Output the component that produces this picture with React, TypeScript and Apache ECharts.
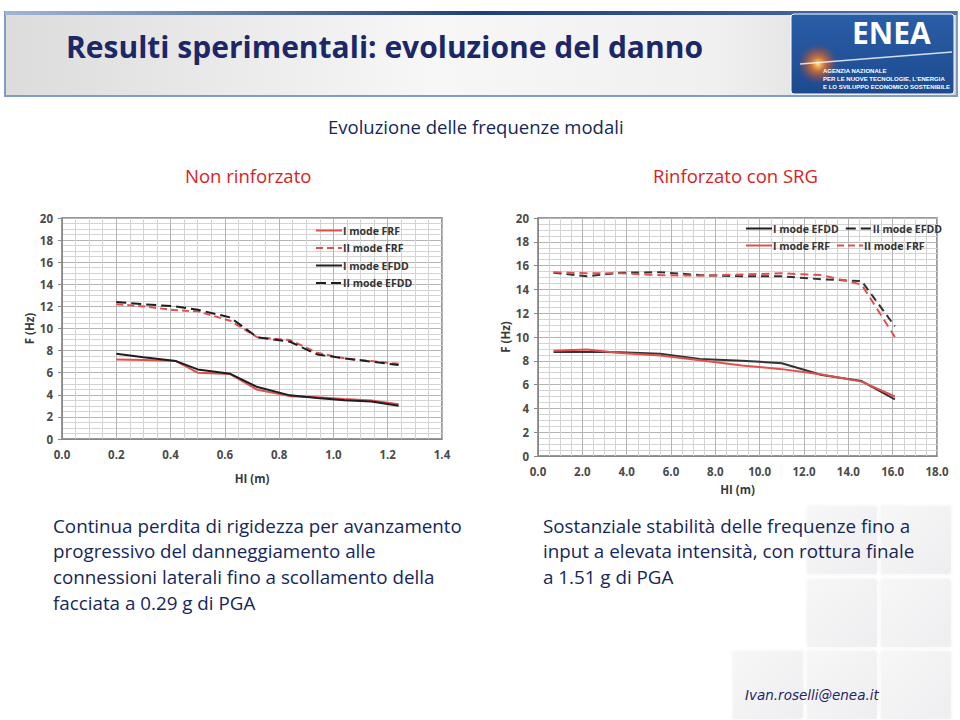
import React, { useEffect, useRef } from "react";
import * as echarts from "echarts";

// ---------- data ----------
const leftX = [0.2, 0.3, 0.42, 0.5, 0.62, 0.72, 0.84, 0.94, 1.04, 1.14, 1.24];
const leftIFRF = [7.2, 7.15, 7.05, 6.0, 5.88, 4.45, 3.88, 3.78, 3.62, 3.48, 3.15];
const leftIIFRF = [12.2, 12.0, 11.65, 11.55, 10.7, 9.2, 8.95, 7.8, 7.3, 7.05, 6.8];
const leftIEFDD = [7.72, 7.4, 7.05, 6.3, 5.9, 4.7, 3.95, 3.7, 3.5, 3.4, 3.0];
const leftIIEFDD = [12.4, 12.2, 12.0, 11.7, 11.0, 9.2, 8.8, 7.65, 7.3, 7.0, 6.7];

const rightX = [0.7, 2.2, 3.7, 5.5, 7.3, 9.2, 11.0, 12.8, 14.6, 16.1];
const rightIEFDD = [8.75, 8.75, 8.72, 8.6, 8.15, 8.0, 7.8, 6.8, 6.3, 4.75];
const rightIIEFDD = [15.4, 15.1, 15.4, 15.45, 15.2, 15.1, 15.1, 14.85, 14.7, 10.9];
const rightIFRF = [8.85, 8.95, 8.65, 8.45, 8.05, 7.6, 7.3, 6.85, 6.25, 5.0];
const rightIIFRF = [15.45, 15.35, 15.35, 15.2, 15.15, 15.25, 15.35, 15.2, 14.4, 10.0];

const leftLegend = ["I mode FRF", "II mode FRF", "I mode EFDD", "II mode EFDD"];
const rightLegend = ["I mode EFDD", "II mode EFDD", "I mode FRF", "II mode FRF"];

const pageTitle = "Resulti sperimentali: evoluzione del danno";
const chartSuper = "Evoluzione delle frequenze modali";
const leftTitle = "Non rinforzato";
const rightTitle = "Rinforzato con SRG";
const leftText = [
  "Continua perdita di rigidezza per avanzamento",
  "progressivo del danneggiamento alle",
  "connessioni laterali fino a scollamento della",
  "facciata a 0.29 g di PGA",
];
const rightText = [
  "Sostanziale stabilità delle frequenze fino a",
  "input a elevata intensità, con rottura finale",
  "a 1.51 g di PGA",
];
const email = "Ivan.roselli@enea.it";

const RED = "#e0504f";
const BLACK = "#1e1e1e";
const NAVY = "#15265a";

const zip = (xs: number[], ys: number[]) => xs.map((x, i) => [x, ys[i]]);

function mkSeries(name: string, xs: number[], ys: number[], idx: number, color: string, dashed: boolean, dash: number[]) {
  return {
    type: "line",
    name,
    xAxisIndex: idx,
    yAxisIndex: idx,
    data: zip(xs, ys),
    symbol: "none",
    smooth: false,
    lineStyle: { color, width: 2, type: dashed ? dash : "solid" },
    itemStyle: { color },
  };
}

const axisLabelStyle = {
  color: "#4a4a4a",
  fontSize: 11.5,
  fontWeight: "bold" as const,
  fontFamily: "Open Sans",
};

function xAxisCfg(idx: number, max: number, interval: number) {
  return {
    type: "value",
    gridIndex: idx,
    min: 0,
    max,
    interval,
    name: "HI (m)",
    nameLocation: "middle",
    nameGap: idx === 0 ? 33 : 27,
    nameTextStyle: { color: "#3a3a3a", fontSize: 11.5, fontWeight: "bold", fontFamily: "Open Sans" },
    axisLine: { show: true, lineStyle: { color: "#888", width: 1 } },
    axisTick: { show: false },
    axisLabel: { ...axisLabelStyle, margin: 9, formatter: (v: number) => v.toFixed(1) },
    splitLine: { show: true, lineStyle: { color: "#b4b4b4", width: 1 } },
    minorTick: { show: false, splitNumber: 4 },
    minorSplitLine: { show: true, lineStyle: { color: "#d4d4d4", width: 1 } },
  };
}

function yAxisCfg(idx: number) {
  return {
    type: "value",
    gridIndex: idx,
    min: 0,
    max: 20,
    interval: 2,
    name: "F (Hz)",
    nameLocation: "middle",
    nameRotate: 90,
    nameGap: 25,
    nameTextStyle: { color: "#3a3a3a", fontSize: 11.5, fontWeight: "bold", fontFamily: "Open Sans" },
    axisLine: { show: true, lineStyle: { color: "#888", width: 1 } },
    axisTick: { show: true, length: 4, inside: false, lineStyle: { color: "#888" } },
    axisLabel: { ...axisLabelStyle, margin: 9 },
    splitLine: { show: true, lineStyle: { color: "#b4b4b4", width: 1 } },
    minorTick: { show: false, splitNumber: 4 },
    minorSplitLine: { show: true, lineStyle: { color: "#d4d4d4", width: 1 } },
  };
}

const legendText = { color: "#333", fontSize: 10.5, fontWeight: "bold", fontFamily: "Open Sans", padding: [0, 0, 0, -4] };

export default function App() {
  const ref = useRef<HTMLDivElement>(null);
  useEffect(() => {
    if (!ref.current) return;
    const chart = echarts.init(ref.current, undefined, { renderer: "svg" });

    const textBlock = (lines: string[], x: number, y0: number, gap: number) =>
      lines.map((t, i) => ({
        type: "text",
        left: x,
        top: y0 + i * gap,
        style: { text: t, fill: NAVY, fontSize: 18.8, fontFamily: "Open Sans" },
      }));

    const tiles: any[] = [];
    const tilePos = [
      [806, 505], [880, 505], [806, 578], [880, 578], [732, 650], [806, 650], [880, 650],
    ];
    tilePos.forEach(([x, y]) =>
      tiles.push({
        type: "rect",
        shape: { x, y, width: 72, height: 70, r: 4 },
        style: {
          fill: new echarts.graphic.LinearGradient(0, 0, 1, 1, [
            { offset: 0, color: "#f7f7f8" },
            { offset: 1, color: "#eeeef0" },
          ]),
          stroke: "#fbfbfb",
          lineWidth: 2,
        },
        silent: true,
      })
    );

    const option: any = {
      animation: false,
      backgroundColor: "#ffffff",
      grid: [
        { left: 62, top: 218, width: 380, height: 221, show: true, borderColor: "#777", borderWidth: 1.5, backgroundColor: "#fff" },
        { left: 538, top: 218, width: 399, height: 238, show: true, borderColor: "#777", borderWidth: 1.5, backgroundColor: "#fff" },
      ],
      xAxis: [xAxisCfg(0, 1.4, 0.2), xAxisCfg(1, 18, 2)],
      yAxis: [yAxisCfg(0), yAxisCfg(1)],
      legend: [
        {
          data: leftLegend.map((n) => ({ name: n })),
          orient: "vertical",
          left: 310,
          top: 220,
          itemWidth: 26,
          itemHeight: 10,
          itemGap: 6.5,
          itemStyle: { opacity: 0 },
          textStyle: legendText,
          selectedMode: false,
        },
        {
          data: rightLegend.map((n) => ({ name: n })),
          orient: "horizontal",
          left: 740,
          top: 218,
          width: 200,
          itemWidth: 26,
          itemHeight: 10,
          itemGap: 6,
          itemStyle: { opacity: 0 },
          textStyle: legendText,
          selectedMode: false,
        },
      ],
      series: [
        mkSeries("I mode FRF", leftX, leftIFRF, 0, RED, false, []),
        mkSeries("II mode FRF", leftX, leftIIFRF, 0, RED, true, [7, 4]),
        mkSeries("I mode EFDD", leftX, leftIEFDD, 0, BLACK, false, []),
        mkSeries("II mode EFDD", leftX, leftIIEFDD, 0, BLACK, true, [10, 5]),
        mkSeries("I mode EFDD", rightX, rightIEFDD, 1, "#333", false, []),
        mkSeries("II mode EFDD", rightX, rightIIEFDD, 1, "#333", true, [8, 5]),
        mkSeries("I mode FRF", rightX, rightIFRF, 1, RED, false, []),
        mkSeries("II mode FRF", rightX, rightIIFRF, 1, RED, true, [8, 5]),
      ],
      graphic: [
        ...tiles,
        // banner
        {
          type: "rect",
          shape: { x: 5, y: 12, width: 952, height: 84 },
          style: {
            fill: new echarts.graphic.LinearGradient(0, 0, 1, 0, [
              { offset: 0, color: "#dcdcdc" },
              { offset: 0.45, color: "#f7f7f7" },
              { offset: 0.75, color: "#f0f0f0" },
              { offset: 1, color: "#cfcfcf" },
            ]),
            stroke: "#7f9cc4",
            lineWidth: 2,
          },
          silent: true,
        },
        {
          type: "rect",
          shape: { x: 5, y: 11, width: 952, height: 4 },
          style: {
            fill: new echarts.graphic.LinearGradient(0, 0, 1, 0, [
              { offset: 0, color: "#9fb6d6" },
              { offset: 0.5, color: "#1f3f78" },
              { offset: 1, color: "#4d73aa" },
            ]),
          },
          silent: true,
        },
        {
          type: "text",
          left: 66,
          top: 31,
          style: {
            text: pageTitle,
            fill: "#1c2767",
            fontSize: 30,
            fontWeight: "bold",
            fontFamily: "Open Sans",
            shadowColor: "rgba(0,0,0,0.35)",
            shadowBlur: 3,
            shadowOffsetX: 1,
            shadowOffsetY: 2,
          },
        },
        // logo
        {
          type: "rect",
          shape: { x: 791, y: 14, width: 163, height: 80, r: 3 },
          style: {
            fill: new echarts.graphic.LinearGradient(0, 0, 0, 1, [
              { offset: 0, color: "#2a5ea8" },
              { offset: 1, color: "#1c4a8e" },
            ]),
            stroke: "#ffffff",
            lineWidth: 1,
          },
          silent: true,
        },
        {
          type: "circle",
          shape: { cx: 818, cy: 64, r: 20 },
          style: {
            fill: new echarts.graphic.RadialGradient(0.5, 0.5, 0.5, [
              { offset: 0, color: "rgba(255,230,120,1)" },
              { offset: 0.35, color: "rgba(240,120,40,0.8)" },
              { offset: 1, color: "rgba(200,60,30,0)" },
            ]),
          },
          silent: true,
        },
        {
          type: "line",
          shape: { x1: 800, y1: 64, x2: 952, y2: 52 },
          style: { stroke: "rgba(255,255,255,0.8)", lineWidth: 1.5 },
          silent: true,
        },
        {
          type: "text",
          left: 852,
          top: 17,
          style: { text: "ENEA", fill: "#ffffff", fontSize: 30, fontWeight: "bold", fontFamily: "Open Sans" },
        },
        {
          type: "text",
          right: 10,
          top: 67,
          style: {
            text: "AGENZIA NAZIONALE\nPER LE NUOVE TECNOLOGIE, L'ENERGIA\nE LO SVILUPPO ECONOMICO SOSTENIBILE",
            fill: "#ffffff",
            fontSize: 6,
            fontWeight: "bold",
            lineHeight: 8,
            align: "right",
            fontFamily: "Liberation Sans",
          },
        },
        // section texts
        {
          type: "text",
          left: 328,
          top: 117,
          style: { text: chartSuper, fill: NAVY, fontSize: 18.5, fontFamily: "Open Sans" },
        },
        {
          type: "text",
          left: 185,
          top: 166,
          style: { text: leftTitle, fill: "#d81e1e", fontSize: 18.5, fontFamily: "Open Sans" },
        },
        {
          type: "text",
          left: 653,
          top: 166,
          style: { text: rightTitle, fill: "#d81e1e", fontSize: 18.5, fontFamily: "Open Sans" },
        },
        ...textBlock(leftText, 53, 516, 25.7),
        ...textBlock(rightText, 543, 516, 25.7),
        {
          type: "text",
          left: 745,
          top: 688,
          style: { text: email, fill: "#1c2767", fontSize: 13.5, fontStyle: "italic", fontFamily: "DejaVu Sans" },
        },
      ],
    };
    chart.setOption(option);
    return () => chart.dispose();
  }, []);
  return (
    <div
      ref={ref}
      style={{ position: "fixed", left: 0, top: 0, width: 960, height: 720 }}
    />
  );
}
